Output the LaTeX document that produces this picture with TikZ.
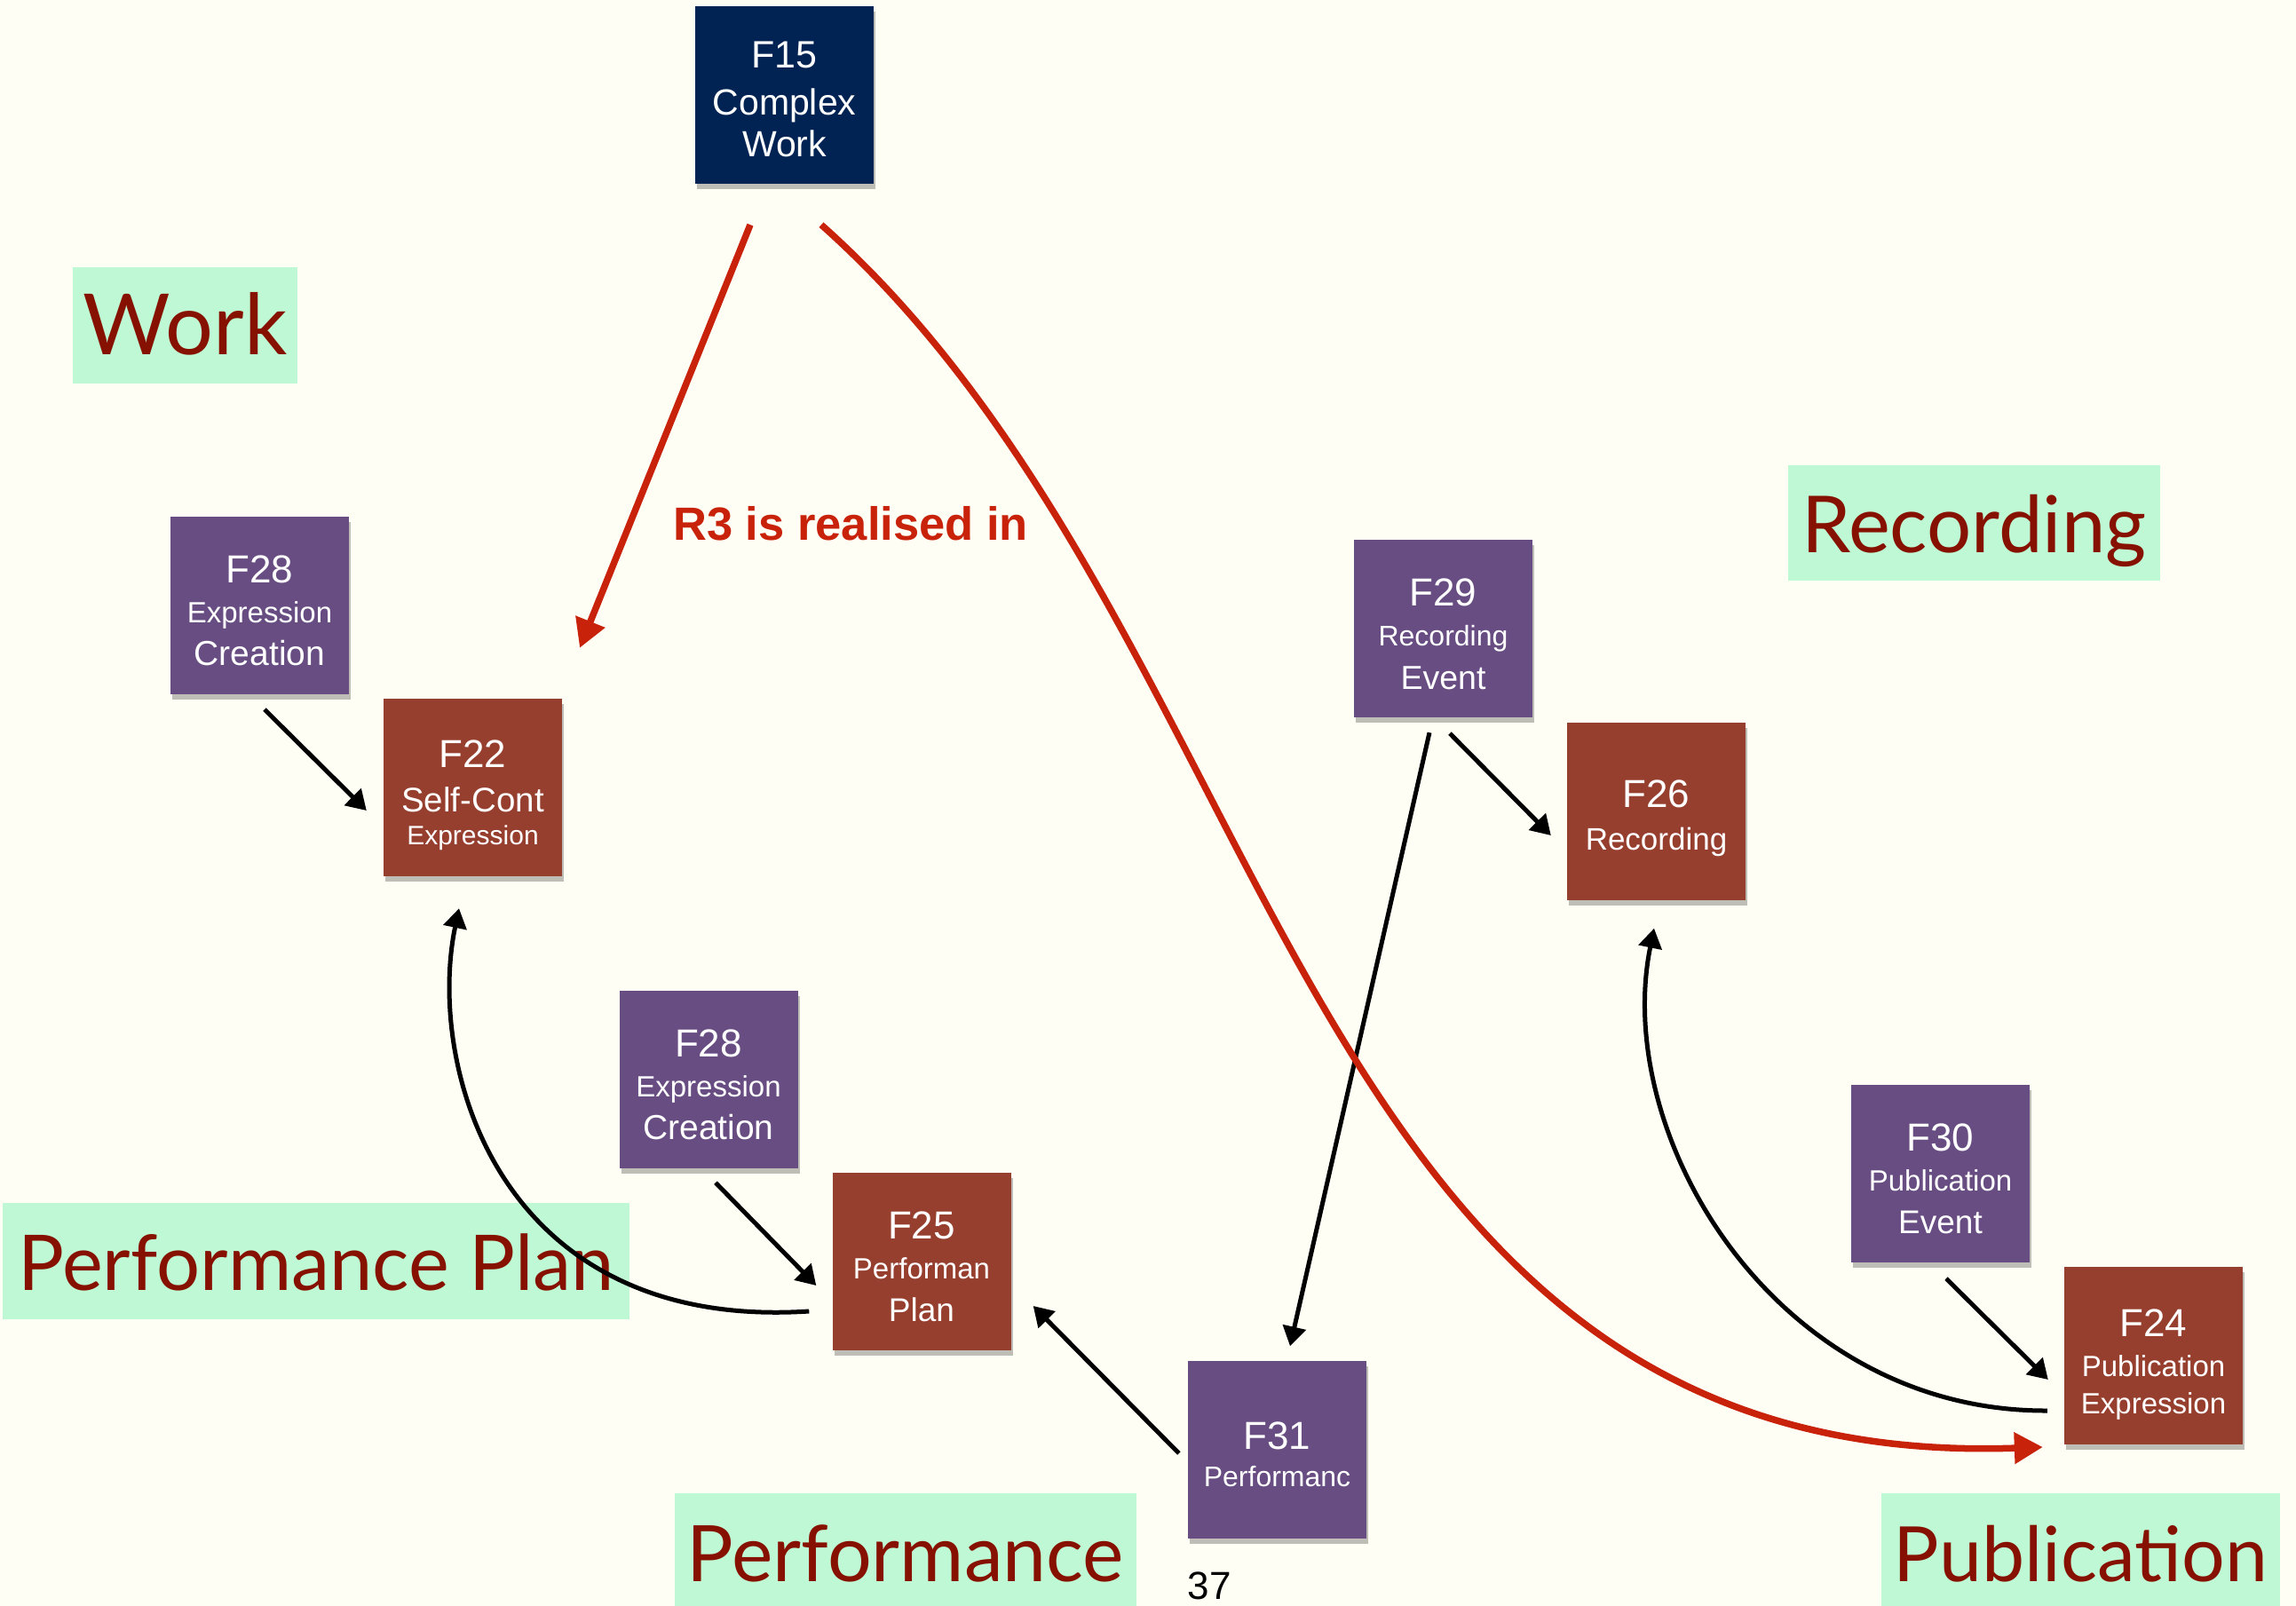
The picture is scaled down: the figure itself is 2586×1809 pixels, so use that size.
\documentclass[tikz,border=0pt]{standalone}
\usepackage{fontspec}
\usepackage{graphicx}
\setmainfont{Liberation Sans}
\newfontfamily\labfont{Lato}
\usetikzlibrary{arrows.meta,shadows,calc}
\definecolor{bgc}{HTML}{FEFEF5}
\definecolor{navyc}{HTML}{012353}
\definecolor{purplec}{HTML}{684D82}
\definecolor{brickc}{HTML}{963F2F}
\definecolor{greenc}{HTML}{BEF8D4}
\definecolor{labred}{HTML}{871100}
\definecolor{arrred}{HTML}{C8230A}
\newcommand\fs[2]{{\fontsize{#1}{#1}\selectfont #2}}
\newcommand\tstrut[1]{\rule{0pt}{#1pt}}
\newcommand\lab[2]{\resizebox{#1pt}{!}{\labfont #2}}
\begin{document}
\begin{tikzpicture}[x=1pt,y=-1pt,
  fbox/.style={rectangle, minimum width=201pt, minimum height=200pt, inner sep=0pt,
    text=white, align=center, font=\fontsize{44}{46}\selectfont,
    drop shadow={shadow xshift=2pt, shadow yshift=-6pt, opacity=0.25, fill=black}},
  navybox/.style={fbox, fill=navyc},
  purplebox/.style={fbox, fill=purplec},
  brickbox/.style={fbox, fill=brickc},
  tagbox/.style={rectangle, fill=greenc, text=labred, inner sep=0pt, text height=66pt, text depth=0pt},
  blk/.style={draw=black, line width=5pt, -{Triangle[length=22pt,width=26pt]}},
  redarr/.style={draw=arrred, line width=7.5pt, -{Triangle[length=32pt,width=34pt]}}
]
\fill[bgc] (0,0) rectangle (2586,1809);
\useasboundingbox (0,0) rectangle (2586,1809);

% green labels
\node[tagbox, minimum width=253pt, minimum height=131pt] (lwork) at (208.5,366.5) {\lab{230}{Work}};
\node[tagbox, minimum width=419pt, minimum height=130pt] (lrec) at (2223.5,589) {\lab{388}{Recording}};
\node[tagbox, minimum width=706pt, minimum height=131pt] (lplan) at (356,1420.5) {\lab{671}{Performance Plan}};
\node[tagbox, minimum width=520pt, minimum height=132pt] (lperf) at (1020,1748) {\lab{492}{Performance}};
\node[tagbox, minimum width=449pt, minimum height=132pt] (lpub) at (2343.5,1748) {\lab{421}{Publication}};

% boxes
\node[navybox] (f15) at (883.5,107) {\tstrut{40}\fs{43}{F15}\\[7pt]\fs{41}{Complex}\\[1pt]\fs{41}{Work}};
\node[purplebox] (f28a) at (292.5,682) {\tstrut{43}F28\\[-1pt]\fs{33}{Expression}\\[2pt]\fs{39}{Creation}};
\node[brickbox] (f22) at (532.5,887) {\tstrut{49}F22\\[4pt]\fs{38.5}{Self-Cont}\\[-9pt]\fs{30}{Expression}};
\node[purplebox] (f29) at (1625.5,708) {\tstrut{44}F29\\[-1pt]\fs{32}{Recording}\\[3pt]\fs{37.5}{Event}};
\node[brickbox] (f26) at (1865.5,913.5) {\tstrut{48}F26\\[2pt]\fs{35}{Recording}};
\node[purplebox] (f28b) at (798,1215.5) {\tstrut{43}F28\\[-1pt]\fs{33}{Expression}\\[2pt]\fs{39}{Creation}};
\node[brickbox] (f25) at (1038,1420.5) {\tstrut{43}F25\\[-1pt]\fs{33}{Performan}\\[2pt]\fs{37}{Plan}};
\node[purplebox] (f30) at (2185.5,1322) {\tstrut{43}F30\\[-1pt]\fs{33}{Publication}\\[2pt]\fs{37}{Event}};
\node[brickbox] (f24) at (2425.5,1527) {\tstrut{50}F24\\[-1pt]\fs{33}{Publication}\\[-4pt]\fs{33}{Expression}};
\node[purplebox] (f31) at (1438.5,1632.5) {\tstrut{43}F31\\[-4pt]\fs{32}{Performanc}};

% texts
\node[anchor=base west, inner sep=0pt, text=arrred, font=\bfseries\fontsize{52.5}{55}\selectfont] (r3) at (758,608) {R3 is realised in};
\node[anchor=base, inner sep=0pt, font=\fontsize{44}{44}\selectfont] (pg) at (1362,1801) {37};

% black connectors
\draw[blk] ($(f28a.south)+(5.5,17)$) -- ($(f22.west)+(-19,26)$);
\draw[blk] ($(f29.south)+(7.5,18)$) -- ($(f26.west)+(-18,27.5)$);
\draw[blk] ($(f29.south)+(-15.5,17)$) -- ($(f31.north)+(14.5,-16)$);
\draw[blk] ($(f31.west)+(-10,4.5)$) -- ($(f25.east)+(25,50.5)$);
\draw[blk] ($(f28b.south)+(8,16.5)$) -- ($(f25.west)+(-18,27.5)$);
\draw[blk] ($(f30.south)+(6.5,18)$) -- ($(f24.west)+(-18,27)$);
\draw[blk] ($(f25.west)+(-26,56.5)$) .. controls (560,1500) and (480,1200) .. ($(f22.south)+(-15.5,36)$);
\draw[blk] ($(f24.west)+(-19,62)$) .. controls (2000,1590) and (1815,1280) .. ($(f26.south)+(-2.5,32)$);

% red connectors
\draw[redarr] ($(f15.south)+(-38.5,46)$) -- ($(f22.north)+(120.5,-57)$);
\draw[redarr] ($(f15.south)+(41.5,46)$) .. controls (1450,720) and (1450,1660) .. ($(f24.west)+(-24,103)$);
\end{tikzpicture}
\end{document}
